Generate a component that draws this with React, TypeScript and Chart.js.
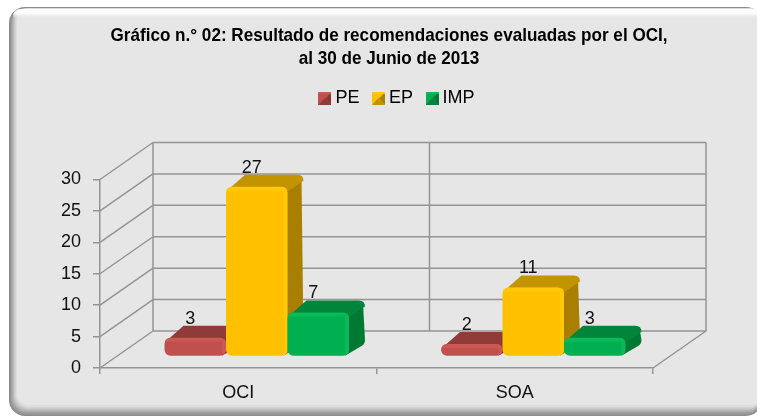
import React, { useEffect, useRef } from "react";
import { Chart, registerables } from "chart.js";

Chart.register(...registerables);

const categories = ["OCI", "SOA"];
const seriesNames = ["PE", "EP", "IMP"];
const peValues = [3, 2];
const epValues = [27, 11];
const impValues = [7, 3];
const titleLines = ["Gráfico n.° 02: Resultado de recomendaciones evaluadas por el OCI,", "al 30 de Junio de 2013"];

const FONT = "'Liberation Sans', Arial, sans-serif";
const front = ["#c0504d", "#ffc000", "#00b050"];
const light = ["#cc5854", "#ffc808", "#08ba58"];
const topFace = ["#8f3b39", "#c39400", "#00853a"];
const sideFace = ["#8a3836", "#a97f00", "#007a33"];
const LINE = "#949494";
const TITLE_SQUEEZE = 0.9;
// depth of the 3D box and of the bars inside it
const WALL = { x: 53, y: -37 };
const BAR_SHIFT = { x: 18.5, y: -11.5 };
const BAR_DEPTH = { x: 16, y: -12 };
const R = 6;

function swatch(i: number) {
  const c = document.createElement("canvas");
  c.width = 13;
  c.height = 13;
  const g = c.getContext("2d")!;
  g.fillStyle = front[i];
  g.fillRect(0, 0, 13, 13);
  g.fillStyle = sideFace[i];
  g.beginPath();
  g.moveTo(13, 0);
  g.lineTo(7, 6.5);
  g.lineTo(13, 13);
  g.fill();
  g.fillStyle = light[i];
  g.fillRect(0, 0, 13, 2);
  g.fillStyle = topFace[i];
  g.beginPath();
  g.moveTo(0, 13);
  g.lineTo(6.5, 6);
  g.lineTo(13, 13);
  g.fill();
  return c;
}

function panel(ctx: CanvasRenderingContext2D) {
  const rect = (l: number, t: number, r: number, b: number, rad: number) => {
    ctx.beginPath();
    ctx.roundRect(l, t, r - l, b - t, rad);
  };
  ctx.save();
  ctx.fillStyle = "#ffffff";
  ctx.fillRect(0, 0, 757, 417);
  const shades = ["#8c8c8c", "#949494", "#a0a0a0", "#adadad", "#bababa", "#c8c8c8", "#d4d4d4", "#dedede"];
  shades.forEach((c, i) => {
    ctx.fillStyle = c;
    rect(9 + i, 7 + Math.min(i, 1), 762, 416 - i * 1.3, 16 - i / 2);
    ctx.fill();
  });
  ctx.fillStyle = "#e6e6e6";
  rect(17, 9, 762, 405, 12);
  ctx.fill();
  const g = ctx.createLinearGradient(0, 9, 0, 19);
  g.addColorStop(0, "#ffffff");
  g.addColorStop(0.45, "#fbfbfb");
  g.addColorStop(1, "rgba(230,230,230,0)");
  ctx.fillStyle = g;
  rect(13, 9, 762, 24, 13);
  ctx.fill();
  ctx.restore();
}

function drawBox(chart: any) {
  const { ctx, scales } = chart;
  const y = scales.y;
  const x = scales.x;
  const l = x.left;
  const r = x.right;
  const mid = (l + r) / 2;
  const b = y.getPixelForValue(0);
  const t = y.getPixelForValue(y.max);
  ctx.save();
  ctx.strokeStyle = LINE;
  ctx.lineWidth = 1.5;
  const seg = (a: number, c: number, d: number, e: number) => {
    ctx.beginPath();
    ctx.moveTo(a, c);
    ctx.lineTo(d, e);
    ctx.stroke();
  };
  y.ticks.forEach((tk: any) => {
    const p = y.getPixelForValue(tk.value);
    seg(l, p, l + WALL.x, p + WALL.y);
    seg(l + WALL.x, p + WALL.y, r + WALL.x, p + WALL.y);
  });
  seg(r, b, r + WALL.x, b + WALL.y);
  [l, mid, r].forEach((v) => seg(v + WALL.x, t + WALL.y, v + WALL.x, b + WALL.y));
  ctx.restore();
}

function barBox(el: any) {
  return {
    L: el.x - el.width / 2 + BAR_SHIFT.x,
    Rt: el.x + el.width / 2 + BAR_SHIFT.x,
    T: el.y + BAR_SHIFT.y,
    B: el.base + BAR_SHIFT.y,
  };
}

function drawBack(ctx: CanvasRenderingContext2D, el: any, i: number) {
  const { L, Rt, T, B } = barBox(el);
  const dx = BAR_DEPTH.x;
  const dy = BAR_DEPTH.y;
  ctx.save();
  ctx.fillStyle = sideFace[i];
  ctx.beginPath();
  ctx.moveTo(Rt - 2, T + 2);
  ctx.lineTo(Rt - 2 + dx, T + 2 + dy);
  ctx.lineTo(Rt + dx, B + dy - 4);
  ctx.quadraticCurveTo(Rt + dx, B + dy, Rt + dx - 3, B + dy + 2);
  ctx.lineTo(Rt - 4, B);
  ctx.closePath();
  ctx.fill();
  ctx.fillStyle = topFace[i];
  ctx.beginPath();
  ctx.moveTo(L + 2, T + 3);
  ctx.lineTo(L + 5 + dx - 2, T + dy);
  ctx.lineTo(Rt - 6 + dx, T + dy);
  ctx.quadraticCurveTo(Rt + dx, T + dy, Rt + dx, T + dy + 6);
  ctx.lineTo(Rt - 2, T + 6);
  ctx.closePath();
  ctx.fill();
  ctx.restore();
}

function drawHighlight(ctx: CanvasRenderingContext2D, el: any, i: number) {
  const { L, Rt, T, B } = barBox(el);
  ctx.save();
  ctx.beginPath();
  ctx.roundRect(L, T, Rt - L, B - T, R);
  ctx.clip();
  ctx.fillStyle = light[i];
  ctx.fillRect(L, T, Rt - L, 4);
  ctx.fillRect(Rt - 4, T, 4, B - T);
  ctx.restore();
}

const box3d = {
  id: "box3d",
  beforeDraw(chart: any) {
    panel(chart.ctx);
  },
  beforeDatasetsDraw(chart: any) {
    const { ctx } = chart;
    drawBox(chart);
    // datasets painted left to right, each on top of the previous one's side face
    chart.data.datasets.forEach((_: any, i: number) => {
      const meta = chart.getDatasetMeta(i);
      meta.data.forEach((el: any) => drawBack(ctx, el, i));
      ctx.save();
      ctx.translate(BAR_SHIFT.x, BAR_SHIFT.y);
      meta.controller.draw();
      ctx.restore();
      meta.data.forEach((el: any) => drawHighlight(ctx, el, i));
    });
    ctx.save();
    ctx.fillStyle = "#111111";
    ctx.font = `18px ${FONT}`;
    ctx.textAlign = "center";
    ctx.textBaseline = "middle";
    chart.data.datasets.forEach((ds: any, i: number) => {
      chart.getDatasetMeta(i).data.forEach((el: any, j: number) => {
        const { T } = barBox(el);
        ctx.fillText(String(ds.data[j]), el.x + BAR_SHIFT.x - 5, T + BAR_DEPTH.y - 7);
      });
    });
    ctx.restore();
    return false;
  },
  afterLayout(chart: any) {
    chart.legend.left += 10;
    chart.legend.right += 10;
    const title = chart.titleBlock;
    if (title && !title.__squeezed) {
      title.__squeezed = true;
      const baseDraw = title.draw.bind(title);
      title.draw = () => {
        const { ctx } = chart;
        const cx = (title.left + title.right) / 2;
        ctx.save();
        ctx.letterSpacing = "0px";
        ctx.translate(cx, 0);
        ctx.scale(TITLE_SQUEEZE, 1);
        ctx.translate(-cx, 0);
        baseDraw();
        ctx.restore();
      };
    }
  },
};

export default function App() {
  const ref = useRef<HTMLCanvasElement>(null);
  useEffect(() => {
    document.body.style.margin = "0";
    const canvas = ref.current!;
    (canvas.getContext("2d") as any).letterSpacing = "-0.5px";
    const seriesValues = [peValues, epValues, impValues];
    const chart = new Chart(canvas, {
      type: "bar",
      data: {
        labels: categories,
        datasets: seriesNames.map((name, i) => ({
          label: name,
          data: seriesValues[i],
          backgroundColor: front[i],
          borderWidth: 0,
          borderRadius: R,
          borderSkipped: false,
          categoryPercentage: 0.667,
          barPercentage: 1,
        })),
      } as any,
      options: {
        responsive: false,
        animation: false,
        events: [],
        layout: { padding: { left: 21, right: 0, top: 24, bottom: 0 } },
        plugins: {
          tooltip: { enabled: false },
          title: {
            display: true,
            text: titleLines,
            color: "#000000",
            font: { family: FONT, size: 19, weight: "bold", lineHeight: 23 / 19 },
            padding: { top: 0, bottom: 2 },
          },
          legend: {
            display: true,
            position: "top",
            labels: {
              usePointStyle: true,
              boxWidth: 3,
              boxHeight: 13,
              padding: 17.5,
              color: "#111111",
              font: { family: FONT, size: 18 },
              generateLabels: () =>
                seriesNames.map((n, i) => ({
                  text: n,
                  datasetIndex: i,
                  pointStyle: swatch(i),
                  fillStyle: front[i],
                  strokeStyle: front[i],
                  lineWidth: 0,
                })),
            },
          },
        },
        scales: {
          x: {
            type: "category",
            position: "bottom",
            offset: true,
            afterFit: (s: any) => {
              s.height = 49;
            },
            grid: { display: true, offset: true, drawOnChartArea: false, drawTicks: true, tickLength: 6, color: LINE, lineWidth: 1.5 },
            border: { display: true, color: LINE, width: 1.5 },
            ticks: { color: "#111111", font: { family: FONT, size: 18 }, padding: 8, maxRotation: 0 },
          },
          y: {
            type: "linear",
            position: "left",
            min: 0,
            max: 30,
            afterFit: (s: any) => {
              s.width = 79;
            },
            grid: { display: true, drawOnChartArea: false, drawTicks: true, tickLength: 7, color: LINE, lineWidth: 1.5 },
            border: { display: true, color: LINE, width: 1.5 },
            ticks: { stepSize: 5, color: "#111111", font: { family: FONT, size: 18 }, padding: 12 },
          },
          yRight: {
            type: "linear",
            position: "right",
            display: true,
            afterFit: (s: any) => {
              s.width = 104;
            },
            grid: { display: false },
            border: { display: false },
            ticks: { display: false },
          },
          xTop: {
            type: "category",
            position: "top",
            display: true,
            labels: [],
            afterFit: (s: any) => {
              s.height = 62;
            },
            grid: { display: false },
            border: { display: false },
            ticks: { display: false },
          },
        },
      } as any,
      plugins: [box3d],
    });
    return () => chart.destroy();
  }, []);
  return <canvas ref={ref} width={757} height={417} style={{ display: "block" }} />;
}
